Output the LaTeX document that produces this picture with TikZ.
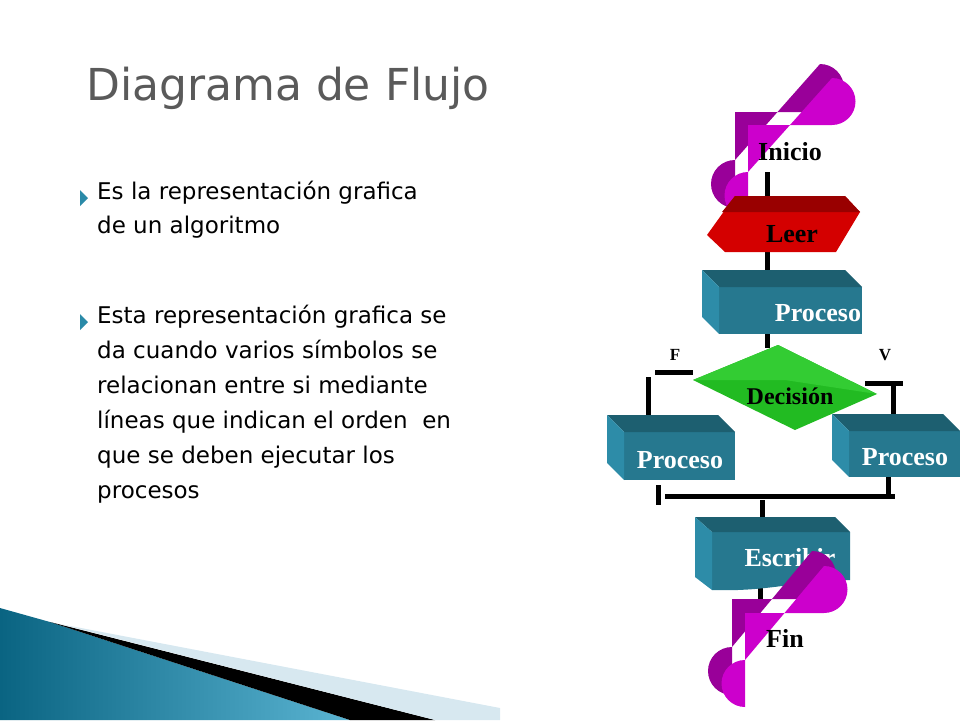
\documentclass[tikz,border=0pt]{standalone}
\usepackage{fontspec}
\setmainfont{DejaVu Sans}
\newfontfamily\fcserif{Liberation Serif}
\definecolor{mag}{HTML}{CC00CC}
\definecolor{magd}{HTML}{990099}
\definecolor{redf}{HTML}{D40000}
\definecolor{redd}{HTML}{990000}
\definecolor{tealf}{HTML}{26788F}
\definecolor{teald}{HTML}{1D5F70}
\definecolor{teall}{HTML}{2D8CA8}
\definecolor{grn}{HTML}{22BB22}
\definecolor{grnl}{HTML}{33CC33}
\definecolor{ttl}{HTML}{5A5A5A}
\definecolor{bul}{HTML}{2A8AA8}
\definecolor{swdark}{HTML}{0A6482}
\definecolor{swlight}{HTML}{5AB4D2}
\definecolor{swpale}{HTML}{D7E8F0}
\tikzset{
  fclabel/.style={font=\fcserif\bfseries\fontsize{26}{28}\selectfont},
  proclabel/.style={fclabel,text=white},
  conn/.style={line width=5pt},
  body/.style={font=\fontsize{23}{34}\selectfont,anchor=north west,align=left,text=black,inner sep=0pt},
  bullet/.style={fill=bul},
}
\newcommand{\pbox}[4]{%
  \fill[tealf] (#1+17,#2+17) rectangle (#3,#4);
  \fill[teald] (#1,#2) -- (#3-17,#2) -- (#3,#2+17) -- (#1+17,#2+17) -- cycle;
  \fill[teall] (#1,#2) -- (#1+17,#2+17) -- (#1+17,#4) -- (#1,#4-17) -- cycle;}
\begin{document}
\begin{tikzpicture}[x=1pt,y=-1pt]
\useasboundingbox (0,0) rectangle (960,720);
% bottom swoosh
\shade[left color=swdark, right color=swlight] (0,608) -- (50,622) -- (350,720) -- (0,720) -- cycle;
\fill[black] (50,622) -- (435,720) -- (350,720) -- cycle;
\fill[swpale] (60,624) -- (500,708) -- (500,720) -- (435,720) -- cycle;
% title
\node[anchor=west,text=ttl,font=\fontsize{44}{48}\selectfont,inner sep=0pt] (title) at (86,88) {Diagrama de Flujo};
% bullets
\foreach \y in {198,322} \fill[bullet] (80,\y-8) -- (88,\y) -- (80,\y+8) -- cycle;
\node[body] (b1) at (97,181) {Es la representación grafica\\de un algoritmo};
\node[body,font=\fontsize{23}{35}\selectfont] (b2) at (97,305) {Esta representación grafica se\\da cuando varios símbolos se\\relacionan entre si mediante\\líneas que indican el orden\ \ en\\que se deben ejecutar los\\procesos};
% connectors
\draw[conn] (767,172) -- (767,197);
\draw[conn] (767,252) -- (767,272);
\draw[conn] (767,334) -- (767,348);
\draw[conn] (655,372) -- (693,372);
\draw[conn] (648,377) -- (648,418);
\draw[conn] (865,383) -- (903,383);
\draw[conn] (893,383) -- (893,424);
\draw[conn] (658,485) -- (658,505);
\draw[conn] (665,496) -- (895,496);
\draw[conn] (888,477) -- (888,496);
\draw[conn] (762,500) -- (762,518);
\draw[conn] (760,588) -- (760,602);
% Inicio
\fill[magd] (735,112) -- (820,112) arc (90:-90:24) -- (735,160) arc (270:90:24) -- cycle;
\fill[mag] (748,125) -- (832,125) arc (90:-90:23.5) -- (748,172) arc (270:90:23.5) -- cycle;
\node[fclabel] (inicio) at (790,152) {Inicio};
% Leer
\fill[redf] (735,196) -- (845,196) -- (860,212) -- (836,252) -- (725,252) -- (707,235) -- cycle;
\fill[redd] (735,196) -- (845,196) -- (860,212) -- (722,212) -- cycle;
\node[fclabel] (leer) at (792,234) {Leer};
% Proceso
\pbox{702}{270}{862}{334}
\node[proclabel] (p1) at (818,313) {Proceso};
% Decision
\fill[grn] (778,345) -- (877,394) -- (795,430) -- (693,380) -- cycle;
\fill[grnl] (778,345) -- (877,394) -- (785,380) -- (693,380) -- cycle;
\node[fclabel,font=\fcserif\bfseries\fontsize{24}{26}\selectfont] (dec) at (790,396) {Decisión};
\node[font=\fcserif\bfseries\fontsize{17}{18}\selectfont] (F) at (675,355) {F};
\node[font=\fcserif\bfseries\fontsize{17}{18}\selectfont] (V) at (885,355) {V};
\pbox{607}{415}{735}{480}
\node[proclabel] (p2) at (680,460) {Proceso};
\pbox{832}{414}{960}{477}
\node[proclabel] (p3) at (905,457) {Proceso};
% Escribir
\fill[tealf] (712,532) -- (850,532) -- (850,580) .. controls (800,580) and (770,592) .. (712,590) -- cycle;
\fill[teald] (695,517) -- (835,517) -- (850,532) -- (712,532) -- cycle;
\fill[teall] (695,517) -- (712,532) -- (712,590) -- (695,577) -- cycle;
\node[proclabel] (esc) at (790,558) {Escribir};
% Fin
\fill[magd] (732,599) -- (812,599) arc (90:-90:24) -- (732,647) arc (270:90:24) -- cycle;
\fill[mag] (745,613) -- (824,613) arc (90:-90:23.5) -- (745,660) arc (270:90:23.5) -- cycle;
\node[fclabel] (fin) at (785,638) {Fin};
\end{tikzpicture}
\end{document}
